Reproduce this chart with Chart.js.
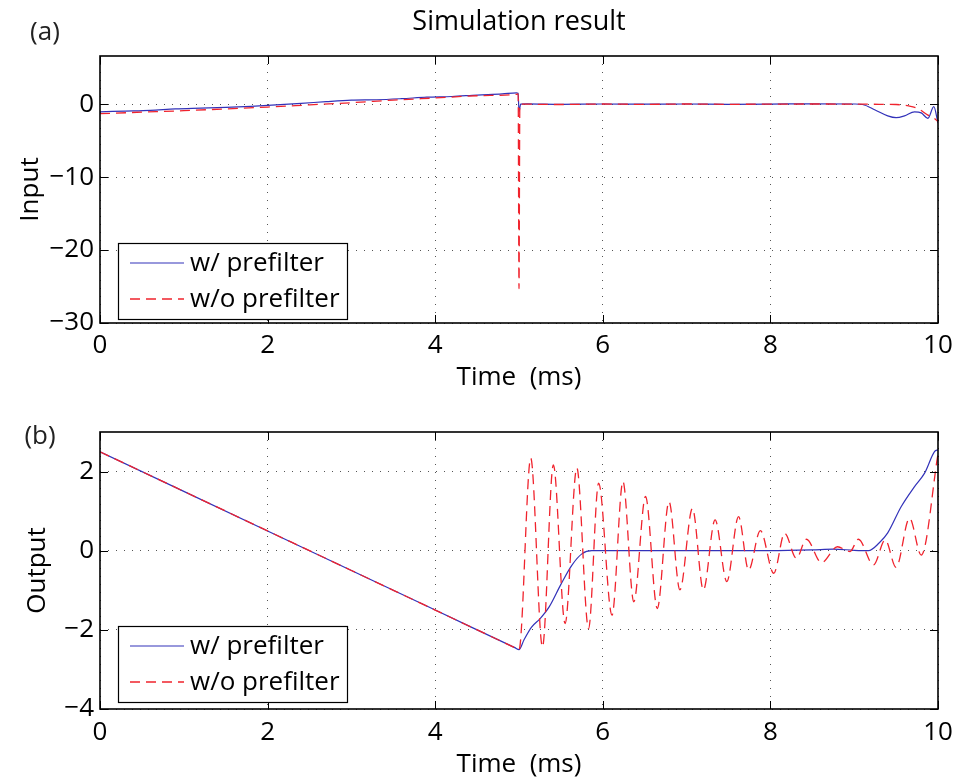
<!DOCTYPE html>
<html><head><meta charset="utf-8">
<script src="https://cdn.jsdelivr.net/npm/chart.js@4"></script>
<style>
html,body{margin:0;padding:0;background:#fff;overflow:hidden;width:959px;height:778px;}
#c1{position:absolute;left:0;top:0;}
#c2{position:absolute;left:0;top:389px;}
</style></head><body>
<canvas id="c1" width="959" height="400"></canvas>
<canvas id="c2" width="959" height="395"></canvas>
<script>
// ---- tick labels / categories ----
const xTicks = [0, 2, 4, 6, 8, 10];
const yTicksInput = [-30, -20, -10, 0];
const yTicksOutput = [-4, -2, 0, 2];
const seriesLabels = ['w/ prefilter', 'w/o prefilter'];
const chartTitle = 'Simulation result';
const xTitle = 'Time  (ms)';

// ---- (a) Input, w/ prefilter ----
const tInputWith = [0, 0.3, 0.6, 0.9, 1.2, 1.5, 1.8, 2.1, 2.4, 2.7, 3.0, 3.3, 3.6, 3.9, 4.2, 4.5, 4.8, 4.97, 4.99, 5.0, 5.02, 5.1, 5.5, 6, 6.5, 7, 7.5, 8, 8.5, 9.0, 9.1, 9.25, 9.4, 9.5, 9.6, 9.72, 9.8, 9.88, 9.95, 10];
const inputWith  = [-1.05, -0.95, -0.85, -0.65, -0.55, -0.45, -0.3, -0.1, 0.1, 0.35, 0.55, 0.6, 0.75, 0.95, 1.05, 1.25, 1.4, 1.55, 1.5, -1.05, 0.0, 0.05, -0.02, 0.02, 0.0, 0.02, -0.02, 0.0, 0.05, 0.02, -0.05, -0.8, -1.6, -1.85, -1.6, -1.05, -1.2, -1.95, -0.35, -2.6];
// ---- (a) Input, w/o prefilter ----
const tInputWithout = [0, 0.5, 1, 1.5, 2, 2.5, 3, 3.5, 4, 4.5, 4.97, 4.99, 5.0, 5.01, 5.5, 6, 6.5, 7, 7.5, 8, 8.5, 9.0, 9.3, 9.5, 9.65, 9.76, 9.88, 9.95, 10];
const inputWithout  = [-1.3, -1.1, -0.9, -0.65, -0.4, -0.1, 0.2, 0.55, 0.85, 1.15, 1.35, 1.4, -25.3, 0.0, -0.05, 0.02, -0.03, 0.02, -0.02, 0.0, 0.02, 0.0, -0.02, -0.05, -0.25, -0.6, -1.5, -1.9, -2.4];

// ---- (b) Output, w/ prefilter ----
const tOutputWith = [0, 1, 2, 3, 4, 4.95, 5.0, 5.06, 5.15, 5.25, 5.36, 5.5, 5.63, 5.75, 5.87, 6.0, 7.0, 8.0, 8.5, 8.75, 9.0, 9.17, 9.3, 9.4, 9.56, 9.72, 9.84, 9.96, 10];
const outputWith  = [2.5, 1.5, 0.5, -0.5, -1.5, -2.45, -2.5, -2.25, -1.93, -1.72, -1.42, -0.85, -0.37, -0.08, 0.0, 0.0, 0.0, 0.0, 0.02, 0.04, 0.01, 0.0, 0.2, 0.45, 1.11, 1.62, 1.96, 2.51, 2.55];
// ---- (b) Output, w/o prefilter ----
const tOutputWithout = [0, 1, 2, 3, 4, 4.95, 5.0, 5.14, 5.28, 5.41, 5.55, 5.69, 5.83, 5.95, 6.11, 6.24, 6.37, 6.51, 6.65, 6.79, 6.92, 7.07, 7.20, 7.34, 7.48, 7.62, 7.74, 7.88, 8.04, 8.17, 8.31, 8.43, 8.61, 8.80, 8.95, 9.05, 9.23, 9.37, 9.50, 9.66, 9.80, 10];
const outputWithout  = [2.5, 1.5, 0.5, -0.5, -1.5, -2.45, -2.5, 2.34, -2.43, 2.17, -1.84, 2.09, -1.97, 1.71, -1.63, 1.75, -1.29, 1.37, -1.46, 1.24, -0.99, 1.07, -0.99, 0.78, -0.78, 0.86, -0.49, 0.51, -0.57, 0.44, -0.19, 0.29, -0.30, 0.10, -0.02, 0.29, -0.36, 0.27, -0.42, 0.82, -0.11, 2.45];

const FONT = "'Open Sans', 'DejaVu Sans', sans-serif";
const BLUE = 'rgb(50,50,185)';
const RED = 'rgb(240,35,45)';
const pts = (t, v) => t.map((x, i) => ({x: x, y: v[i]}));
const minus = v => String(v).replace('-', '\u2212');

const framePlugin = {
  id: 'matlabFrame',
  afterDatasetsDraw(chart, args, opts) {
    const ctx = chart.ctx, a = chart.chartArea;
    const xs = chart.scales.x, ys = chart.scales.y;
    ctx.save();
    ctx.strokeStyle = '#000';
    ctx.lineWidth = 1;
    const L = 8;
    ctx.beginPath();
    xs.ticks.forEach(t => {
      const px = Math.round(xs.getPixelForValue(t.value)) + 0.5;
      ctx.moveTo(px, a.bottom); ctx.lineTo(px, a.bottom - L);
      ctx.moveTo(px, a.top); ctx.lineTo(px, a.top + L);
    });
    ys.ticks.forEach(t => {
      const py = Math.round(ys.getPixelForValue(t.value)) + 0.5;
      ctx.moveTo(a.left, py); ctx.lineTo(a.left + L, py);
      ctx.moveTo(a.right, py); ctx.lineTo(a.right - L, py);
    });
    ctx.stroke();
    ctx.lineWidth = 1.6;
    ctx.strokeRect(a.left, a.top, a.right - a.left, a.bottom - a.top);

    // legend box
    const bw = 229, bh = 76;
    const bx = a.left + 18, by = a.bottom - opts.legendGap - bh;
    ctx.fillStyle = '#fff';
    ctx.fillRect(bx, by, bw, bh);
    ctx.lineWidth = 1.2;
    ctx.strokeRect(bx + 0.5, by + 0.5, bw, bh);
    const order = [1, 0];
    const rows = [by + 20, by + 56];
    order.forEach((di, r) => {
      const ds = chart.data.datasets[di];
      ctx.beginPath();
      ctx.strokeStyle = ds.borderColor;
      ctx.lineWidth = ds.borderWidth;
      ctx.setLineDash(ds.borderDash || []);
      ctx.moveTo(bx + 12, rows[r]); ctx.lineTo(bx + 66, rows[r]);
      ctx.stroke();
      ctx.setLineDash([]);
      ctx.fillStyle = '#000';
      ctx.font = "26px " + FONT;
      ctx.textAlign = 'left';
      ctx.textBaseline = 'middle';
      ctx.fillText(ds.label, bx + 72, rows[r] + 1);
    });

    // panel label and title
    ctx.fillStyle = '#222';
    ctx.font = "26px " + FONT;
    ctx.textAlign = 'center';
    ctx.textBaseline = 'middle';
    ctx.fillText(opts.panel, opts.panelX, opts.panelY);
    if (opts.title) {
      ctx.fillStyle = '#000';
      ctx.font = "27px " + FONT;
      ctx.fillText(opts.title, (a.left + a.right) / 2, 22);
    }
    ctx.restore();
  }
};

function makeChart(id, cfg) {
  return new Chart(document.getElementById(id), {
    type: 'line',
    plugins: [framePlugin],
    data: {
      datasets: [
        {label: seriesLabels[1], data: pts(cfg.t2, cfg.v2), borderColor: RED, borderWidth: 1.3,
         borderDash: [10, 6], order: 1, pointRadius: 0, cubicInterpolationMode: 'monotone', fill: false},
        {label: seriesLabels[0], data: pts(cfg.t1, cfg.v1), borderColor: BLUE, borderWidth: 1.2,
         order: 2, pointRadius: 0, cubicInterpolationMode: 'monotone', fill: false}
      ]
    },
    options: {
      responsive: false,
      animation: false,
      events: [],
      layout: {padding: {left: 0, right: 21, top: cfg.padTop, bottom: 0}},
      plugins: {
        legend: {display: false},
        tooltip: {enabled: false},
        title: {display: false},
        matlabFrame: {panel: cfg.panel, panelX: cfg.panelX, panelY: cfg.panelY, legendGap: cfg.legendGap, title: cfg.title}
      },
      scales: {
        x: {
          type: 'linear', min: 0, max: 10,
          afterBuildTicks: s => { s.ticks = xTicks.map(v => ({value: v})); },
          afterFit: s => { s.height = cfg.xHeight; s.paddingLeft = 0; s.paddingRight = 0; },
          ticks: {color: '#000', font: {family: FONT, size: 26}, padding: cfg.xTickPad, maxRotation: 0, callback: v => minus(v)},
          grid: {color: '#555', lineWidth: 1, drawTicks: false},
          border: {display: false, dash: [1, 7]},
          title: {display: true, text: xTitle, color: '#000', font: {family: FONT, size: 26}, padding: {top: 0, bottom: cfg.xTitlePad}}
        },
        y: {
          type: 'linear', min: cfg.ymin, max: cfg.ymax,
          afterBuildTicks: s => { s.ticks = cfg.yTicks.map(v => ({value: v})); },
          afterFit: s => { s.width = 100; s.paddingTop = 0; s.paddingBottom = 0; },
          ticks: {color: '#000', font: {family: FONT, size: 26}, padding: 6, callback: v => minus(v)},
          grid: {color: '#555', lineWidth: 1, drawTicks: false},
          border: {display: false, dash: [1, 7]},
          title: {display: true, text: cfg.yTitle, color: '#000', font: {family: FONT, size: 26}, padding: {top: cfg.yTitlePad, bottom: 0}}
        }
      }
    }
  });
}

makeChart('c1', {
  t1: tInputWith, v1: inputWith, t2: tInputWithout, v2: inputWithout,
  ymin: -30, ymax: 6.6, yTicks: yTicksInput, yTitle: 'Input', yTitlePad: 15,
  title: chartTitle, padTop: 56, xHeight: 77, xTitlePad: 7, xTickPad: 7,
  panel: '(a)', panelX: 45, panelY: 33, legendGap: 4
});
makeChart('c2', {
  t1: tOutputWith, v1: outputWith, t2: tOutputWithout, v2: outputWithout,
  ymin: -4, ymax: 3, yTicks: yTicksOutput, yTitle: 'Output', yTitlePad: 22,
  title: null, padTop: 43, xHeight: 75, xTitlePad: 4, xTickPad: 8,
  panel: '(b)', panelX: 40, panelY: 48, legendGap: 7
});
</script>
</body></html>
